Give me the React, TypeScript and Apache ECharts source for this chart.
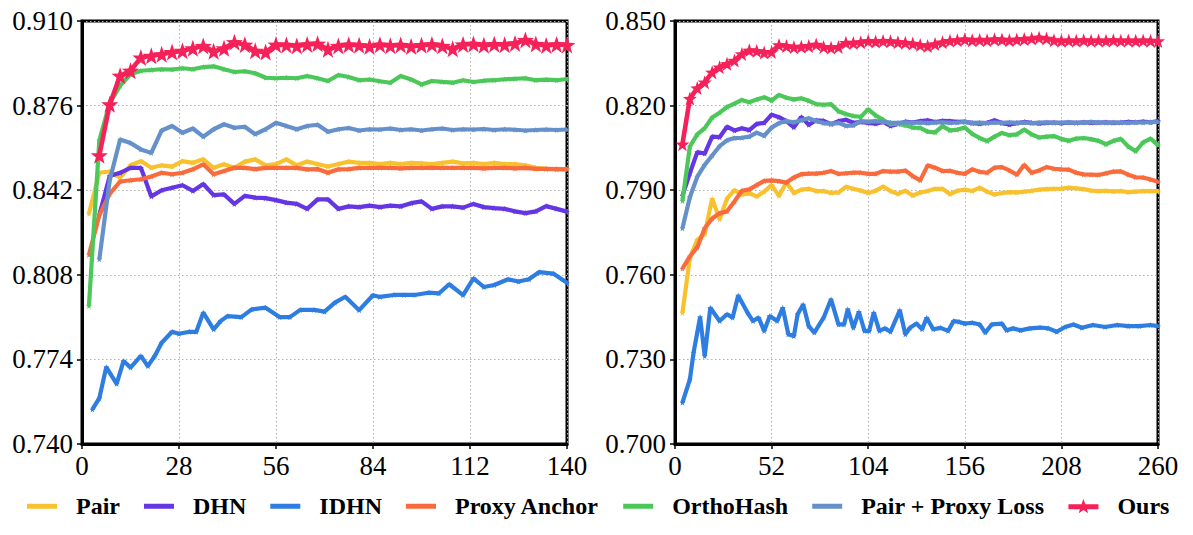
import React, { useEffect, useRef } from "react";
import * as echarts from "echarts";

const SERIES_NAMES = ["Pair", "DHN", "IDHN", "Proxy Anchor", "OrthoHash", "Pair + Proxy Loss", "Ours"];
const COLORS = ["#F8C12E", "#6536E3", "#2E7DE1", "#F96B3D", "#4CC75A", "#6590CA", "#F52158"];

const LEFT_X_TICKS = { min: 0, max: 140, interval: 28 };
const LEFT_Y_TICKS = { min: 0.74, max: 0.91, interval: 0.034 };
const RIGHT_X_TICKS = { min: 0, max: 260, interval: 52 };
const RIGHT_Y_TICKS = { min: 0.7, max: 0.85, interval: 0.03 };

// ---------- left panel ----------
const leftEpochs = [2, 5, 8, 11, 14, 17, 20, 23, 26, 29, 32, 35, 38, 41, 44, 47, 50, 53, 56, 59, 62, 65, 68, 71, 74, 77, 80, 83, 86, 89, 92, 95, 98, 101, 104, 107, 110, 113, 116, 119, 122, 125, 128, 131, 134, 137, 140];
const leftPair = [0.8325, 0.849, 0.8495, 0.847, 0.852, 0.8537, 0.851, 0.852, 0.8515, 0.8537, 0.853, 0.8544, 0.851, 0.8524, 0.851, 0.8535, 0.8544, 0.852, 0.8525, 0.8544, 0.852, 0.8535, 0.8525, 0.8515, 0.8525, 0.8535, 0.853, 0.853, 0.8525, 0.853, 0.8525, 0.853, 0.8528, 0.8525, 0.853, 0.8535, 0.8528, 0.853, 0.8525, 0.853, 0.8525, 0.8525, 0.852, 0.851, 0.8506, 0.8505, 0.8505];
const leftDHN = [null, 0.832, 0.8477, 0.849, 0.851, 0.851, 0.8395, 0.842, 0.843, 0.844, 0.8417, 0.8445, 0.84, 0.8403, 0.8365, 0.8397, 0.839, 0.8388, 0.838, 0.837, 0.8365, 0.8345, 0.8383, 0.8383, 0.8345, 0.8355, 0.8352, 0.8358, 0.8352, 0.8358, 0.8355, 0.8368, 0.8375, 0.8345, 0.8355, 0.8355, 0.835, 0.8365, 0.8352, 0.8348, 0.8345, 0.8335, 0.8328, 0.8335, 0.8356, 0.8345, 0.8334];
const leftProxyAnchor = [0.816, 0.832, 0.8405, 0.8455, 0.846, 0.8464, 0.8475, 0.849, 0.8484, 0.849, 0.8504, 0.8524, 0.8484, 0.8497, 0.851, 0.851, 0.8505, 0.851, 0.851, 0.851, 0.851, 0.8504, 0.8505, 0.849, 0.8504, 0.8505, 0.851, 0.851, 0.851, 0.851, 0.8508, 0.851, 0.851, 0.851, 0.851, 0.851, 0.851, 0.851, 0.8508, 0.851, 0.851, 0.8508, 0.851, 0.8506, 0.8506, 0.8505, 0.8504];
const leftOrthoHash = [0.7955, 0.862, 0.877, 0.884, 0.8886, 0.89, 0.8903, 0.8906, 0.8905, 0.891, 0.8906, 0.8915, 0.8918, 0.8906, 0.8895, 0.8898, 0.889, 0.8872, 0.887, 0.8872, 0.887, 0.8879, 0.887, 0.8859, 0.8883, 0.8875, 0.8862, 0.8865, 0.8858, 0.8852, 0.8879, 0.8865, 0.8845, 0.8859, 0.8855, 0.8852, 0.8862, 0.8855, 0.886, 0.8862, 0.8866, 0.8868, 0.887, 0.8862, 0.8864, 0.8862, 0.8867];
const leftPairProxy = [null, 0.8142, 0.846, 0.8624, 0.861, 0.8584, 0.857, 0.866, 0.8678, 0.8651, 0.8668, 0.8635, 0.8665, 0.8685, 0.8671, 0.8675, 0.8645, 0.8665, 0.8691, 0.8678, 0.8665, 0.8678, 0.8683, 0.8655, 0.8665, 0.867, 0.866, 0.8665, 0.8664, 0.8668, 0.8662, 0.8665, 0.866, 0.8665, 0.8668, 0.8662, 0.8665, 0.8664, 0.8666, 0.8662, 0.8665, 0.8663, 0.866, 0.8662, 0.8664, 0.8662, 0.8664];
const leftOurs = [null, 0.856, 0.8765, 0.888, 0.89, 0.8953, 0.896, 0.8966, 0.8975, 0.898, 0.899, 0.9, 0.8978, 0.899, 0.9015, 0.9005, 0.898, 0.8975, 0.9005, 0.9004, 0.9, 0.9006, 0.9009, 0.8986, 0.9, 0.9005, 0.9003, 0.8998, 0.9005, 0.9001, 0.9004, 0.8998, 0.9003, 0.9006, 0.9, 0.8988, 0.9006, 0.9008, 0.9003, 0.9007, 0.9005, 0.901, 0.9024, 0.9008, 0.9002, 0.9006, 0.9004];
const leftIDHNEpochs = [3, 5, 7, 10, 12, 14, 17, 19, 21, 23, 26, 28, 31, 33, 35, 38, 40, 42, 46, 49, 53, 57, 60, 63, 67, 70, 73, 76, 80, 84, 86, 90, 93, 96, 100, 103, 106, 110, 113, 116, 119, 123, 126, 129, 132, 136, 140];
const leftIDHN = [0.7539, 0.7584, 0.7709, 0.7642, 0.7734, 0.7707, 0.7754, 0.7713, 0.7754, 0.7807, 0.7851, 0.7843, 0.7851, 0.7851, 0.7928, 0.7861, 0.7894, 0.7914, 0.791, 0.7941, 0.7948, 0.791, 0.791, 0.7939, 0.7939, 0.7932, 0.7968, 0.7992, 0.7938, 0.7998, 0.7991, 0.7999, 0.7999, 0.7999, 0.8008, 0.8005, 0.8042, 0.7998, 0.8066, 0.8031, 0.8039, 0.8062, 0.8053, 0.8062, 0.8091, 0.8085, 0.8048];

// ---------- right panel ----------
const rightEpochs = [4, 8, 12, 16, 20, 24, 28, 32, 36, 40, 44, 48, 52, 56, 60, 64, 68, 72, 76, 80, 84, 88, 92, 96, 100, 104, 108, 112, 116, 120, 124, 128, 132, 136, 140, 144, 148, 152, 156, 160, 164, 168, 172, 176, 180, 184, 188, 192, 196, 200, 204, 208, 212, 216, 220, 224, 228, 232, 236, 240, 244, 248, 252, 256, 260];
const rightPair = [0.7465, 0.766, 0.7724, 0.7745, 0.787, 0.7797, 0.787, 0.79, 0.7885, 0.7889, 0.7878, 0.7895, 0.7918, 0.788, 0.7928, 0.789, 0.7902, 0.7905, 0.7897, 0.7897, 0.789, 0.7892, 0.7912, 0.7905, 0.7899, 0.789, 0.7898, 0.7913, 0.7897, 0.7887, 0.7898, 0.7881, 0.7892, 0.7897, 0.7905, 0.7905, 0.7886, 0.7898, 0.7902, 0.7897, 0.7909, 0.7895, 0.7885, 0.789, 0.7893, 0.7892, 0.7895, 0.7898, 0.7902, 0.7904, 0.7905, 0.7906, 0.7909, 0.7907, 0.7904, 0.7899, 0.7897, 0.7898, 0.7896, 0.7897, 0.7893, 0.7895, 0.7897, 0.7897, 0.7897];
const rightDHN = [0.788, 0.796, 0.8035, 0.803, 0.809, 0.8088, 0.8125, 0.8112, 0.812, 0.8113, 0.8135, 0.8139, 0.8168, 0.8159, 0.8145, 0.8123, 0.816, 0.8132, 0.8148, 0.8146, 0.8134, 0.8145, 0.815, 0.8139, 0.8142, 0.8139, 0.8136, 0.8142, 0.8128, 0.8135, 0.8143, 0.814, 0.8145, 0.8148, 0.8142, 0.8146, 0.8145, 0.8142, 0.8143, 0.8138, 0.8136, 0.8139, 0.8148, 0.8138, 0.8133, 0.8138, 0.8142, 0.8139, 0.8137, 0.8139, 0.814, 0.8138, 0.814, 0.8139, 0.8141, 0.8139, 0.814, 0.8141, 0.8139, 0.814, 0.8142, 0.8141, 0.8143, 0.8141, 0.8145];
const rightProxyAnchor = [0.7622, 0.7665, 0.7698, 0.7765, 0.78, 0.7818, 0.7825, 0.786, 0.7898, 0.7903, 0.7918, 0.7933, 0.7935, 0.7932, 0.7927, 0.7945, 0.7957, 0.7959, 0.7959, 0.7962, 0.7968, 0.7958, 0.796, 0.7962, 0.7962, 0.7958, 0.7958, 0.7968, 0.7966, 0.7966, 0.797, 0.795, 0.7935, 0.7988, 0.798, 0.7968, 0.7969, 0.7962, 0.7958, 0.7974, 0.7965, 0.7962, 0.798, 0.7982, 0.797, 0.7955, 0.799, 0.7962, 0.797, 0.7982, 0.7976, 0.7974, 0.7973, 0.7962, 0.7956, 0.7955, 0.7954, 0.796, 0.7966, 0.7967, 0.7955, 0.7946, 0.7945, 0.7938, 0.793];
const rightOrthoHash = [0.7862, 0.8055, 0.8098, 0.812, 0.8158, 0.8175, 0.8195, 0.8207, 0.822, 0.8212, 0.8222, 0.823, 0.8218, 0.8238, 0.8228, 0.8222, 0.8226, 0.8217, 0.8205, 0.8203, 0.8205, 0.818, 0.817, 0.8163, 0.816, 0.8187, 0.8165, 0.815, 0.8134, 0.8136, 0.813, 0.8122, 0.8121, 0.8108, 0.8105, 0.8127, 0.8112, 0.8115, 0.8122, 0.81, 0.8085, 0.8074, 0.809, 0.8103, 0.8095, 0.8098, 0.8115, 0.8098, 0.8087, 0.809, 0.8092, 0.8082, 0.8075, 0.8083, 0.8085, 0.8081, 0.8075, 0.8063, 0.8075, 0.8082, 0.8055, 0.8038, 0.807, 0.8083, 0.806];
const rightPairProxy = [0.7765, 0.7875, 0.7948, 0.799, 0.8023, 0.8056, 0.8077, 0.8085, 0.8086, 0.809, 0.8104, 0.8093, 0.8122, 0.8138, 0.8145, 0.8141, 0.8148, 0.8155, 0.8145, 0.8138, 0.8135, 0.8139, 0.8128, 0.813, 0.8145, 0.8143, 0.8145, 0.8142, 0.814, 0.8139, 0.8141, 0.8139, 0.814, 0.8138, 0.814, 0.8141, 0.8139, 0.814, 0.8142, 0.8139, 0.814, 0.8138, 0.814, 0.8139, 0.8141, 0.8139, 0.814, 0.8138, 0.814, 0.8141, 0.8139, 0.814, 0.8141, 0.8139, 0.814, 0.8142, 0.814, 0.8139, 0.8141, 0.814, 0.8139, 0.8141, 0.814, 0.8141, 0.8142];
const rightOurs = [0.8063, 0.8225, 0.8262, 0.8283, 0.8318, 0.8336, 0.8348, 0.836, 0.8383, 0.8396, 0.8394, 0.8388, 0.839, 0.8415, 0.8411, 0.8407, 0.8409, 0.8411, 0.8417, 0.8408, 0.8405, 0.8408, 0.8423, 0.8422, 0.8425, 0.8429, 0.8427, 0.8429, 0.8428, 0.8425, 0.8423, 0.842, 0.8415, 0.8411, 0.8418, 0.8425, 0.843, 0.8432, 0.8435, 0.8432, 0.8433, 0.8432, 0.8435, 0.8434, 0.8432, 0.8434, 0.8436, 0.8438, 0.8441, 0.8438, 0.8432, 0.843, 0.8431, 0.843, 0.8432, 0.843, 0.8431, 0.843, 0.8432, 0.843, 0.8431, 0.843, 0.8431, 0.843, 0.8429];
const rightIDHNEpochs = [4, 8, 10, 13.5, 16, 19, 24, 28, 31, 34, 39, 42, 45, 48, 51, 55, 58, 61, 64, 66, 69, 72, 75, 80, 84, 88, 91, 93, 96, 99, 102, 104.5, 107, 110, 113, 116, 121, 124, 126.5, 130, 133, 135.5, 139, 143, 147, 150, 153, 156, 160, 164, 167, 170.5, 176, 178.5, 182, 186, 191, 196.5, 201, 205.5, 210, 214.5, 219, 225, 231.5, 238, 244, 250, 256, 260];
const rightIDHN = [0.7147, 0.7229, 0.7324, 0.745, 0.7312, 0.7483, 0.7436, 0.746, 0.7448, 0.7527, 0.7466, 0.7436, 0.7448, 0.7401, 0.7454, 0.7436, 0.7483, 0.7389, 0.7383, 0.746, 0.7495, 0.7418, 0.7395, 0.7448, 0.7513, 0.7424, 0.7424, 0.7478, 0.7412, 0.7469, 0.7401, 0.7401, 0.7466, 0.7401, 0.741, 0.7398, 0.7474, 0.7389, 0.7412, 0.7427, 0.7407, 0.7448, 0.7407, 0.7412, 0.7401, 0.7436, 0.7433, 0.7427, 0.743, 0.7424, 0.7395, 0.7424, 0.7427, 0.7403, 0.741, 0.7403, 0.741, 0.7413, 0.741, 0.7398, 0.7415, 0.7424, 0.7412, 0.7422, 0.7415, 0.7422, 0.7418, 0.7418, 0.7422, 0.7418];

const FONT = "Liberation Serif";

function starPath(cx: number, cy: number, r: number) {
  const pts: string[] = [];
  for (let k = 0; k < 10; k++) {
    const ang = (-90 + k * 36) * (Math.PI / 180);
    const rr = k % 2 === 0 ? r : r * 0.4;
    pts.push(`${(cx + rr * Math.cos(ang)).toFixed(2)},${(cy + rr * Math.sin(ang)).toFixed(2)}`);
  }
  return "M" + pts.join(" L") + " Z";
}
const STAR = "path://" + starPath(0, 0, 10);
const legendIcon = (r: number) => "path://M0,5.5 L30,5.5 L30,10.5 L0,10.5 Z " + starPath(15, 8, r);

function pairs(xs: number[], ys: (number | null)[]) {
  const out: [number, number][] = [];
  xs.forEach((x, i) => {
    const y = ys[i];
    if (y !== null && y !== undefined) out.push([x, y]);
  });
  return out;
}

function makeSeries(gridIdx: number, sets: [number[], (number | null)[]][], starSize: number) {
  return sets.map(([xs, ys], i) => {
    const isOurs = i === 6;
    return {
      type: "line",
      name: SERIES_NAMES[i],
      xAxisIndex: gridIdx,
      yAxisIndex: gridIdx,
      data: pairs(xs, ys),
      symbol: STAR,
      symbolSize: isOurs ? starSize : 6,
      showSymbol: true,
      color: COLORS[i],
      itemStyle: { color: COLORS[i] },
      lineStyle: { color: COLORS[i], width: isOurs ? 4.6 : 4.2 },
      z: 2 + i,
    };
  });
}

function xAxis(gridIndex: number, t: { min: number; max: number; interval: number }) {
  return {
    gridIndex,
    type: "value",
    min: t.min,
    max: t.max,
    interval: t.interval,
    axisLine: { show: true, onZero: false, lineStyle: { color: "#000", width: 3 } },
    axisTick: { show: true, length: 5, lineStyle: { color: "#000", width: 1.5 } },
    axisLabel: { fontFamily: FONT, fontSize: 27, color: "#000", margin: 8, showMinLabel: true, showMaxLabel: true },
    splitLine: { show: true, lineStyle: { color: "#b0b0b0", width: 1, type: [1.5, 2.5] } },
  };
}

function yAxis(gridIndex: number, t: { min: number; max: number; interval: number }) {
  return {
    gridIndex,
    type: "value",
    min: t.min,
    max: t.max,
    interval: t.interval,
    axisLine: { show: true, onZero: false, lineStyle: { color: "#000", width: 3 } },
    axisTick: { show: true, length: 5, lineStyle: { color: "#000", width: 1.5 } },
    axisLabel: {
      fontFamily: FONT,
      fontSize: 27,
      color: "#000",
      margin: 9,
      showMinLabel: true,
      showMaxLabel: true,
      formatter: (v: number) => v.toFixed(3),
    },
    splitLine: { show: true, lineStyle: { color: "#b0b0b0", width: 1, type: [1.5, 2.5] } },
  };
}

export default function App() {
  const ref = useRef<HTMLDivElement>(null);
  useEffect(() => {
    document.body.style.margin = "0";
    if (!ref.current) return;
    const chart = echarts.init(ref.current, undefined, { renderer: "svg" });
    const leftSets: [number[], (number | null)[]][] = [
      [leftEpochs, leftPair],
      [leftEpochs, leftDHN],
      [leftIDHNEpochs, leftIDHN],
      [leftEpochs, leftProxyAnchor],
      [leftEpochs, leftOrthoHash],
      [leftEpochs, leftPairProxy],
      [leftEpochs, leftOurs],
    ];
    const rightSets: [number[], (number | null)[]][] = [
      [rightEpochs, rightPair],
      [rightEpochs, rightDHN],
      [rightIDHNEpochs, rightIDHN],
      [rightEpochs, rightProxyAnchor],
      [rightEpochs, rightOrthoHash],
      [rightEpochs, rightPairProxy],
      [rightEpochs, rightOurs],
    ];
    const option: any = {
      animation: false,
      backgroundColor: "#fff",
      grid: [
        { left: 82, top: 21, width: 485, height: 423, show: true, borderColor: "#000", borderWidth: 3, backgroundColor: "transparent" },
        { left: 675, top: 21, width: 483, height: 423, show: true, borderColor: "#000", borderWidth: 3, backgroundColor: "transparent" },
      ],
      xAxis: [xAxis(0, LEFT_X_TICKS), xAxis(1, RIGHT_X_TICKS)],
      yAxis: [yAxis(0, LEFT_Y_TICKS), yAxis(1, RIGHT_Y_TICKS)],
      legend: {
        data: SERIES_NAMES.map((name, i) => ({ name, icon: legendIcon(i === 6 ? 8 : 3) })),
        left: 22,
        top: 489,
        itemWidth: 30,
        itemHeight: 16,
        itemGap: 24,
        symbolKeepAspect: true,
        textStyle: { fontFamily: FONT, fontSize: 24, fontWeight: "bold", color: "#000", padding: [0, 0, 0, 14] },
      },
      series: [...makeSeries(0, leftSets, 17), ...makeSeries(1, rightSets, 14)],
    };
    chart.setOption(option);
    return () => chart.dispose();
  }, []);
  return <div ref={ref} style={{ width: 1193, height: 535 }} />;
}
